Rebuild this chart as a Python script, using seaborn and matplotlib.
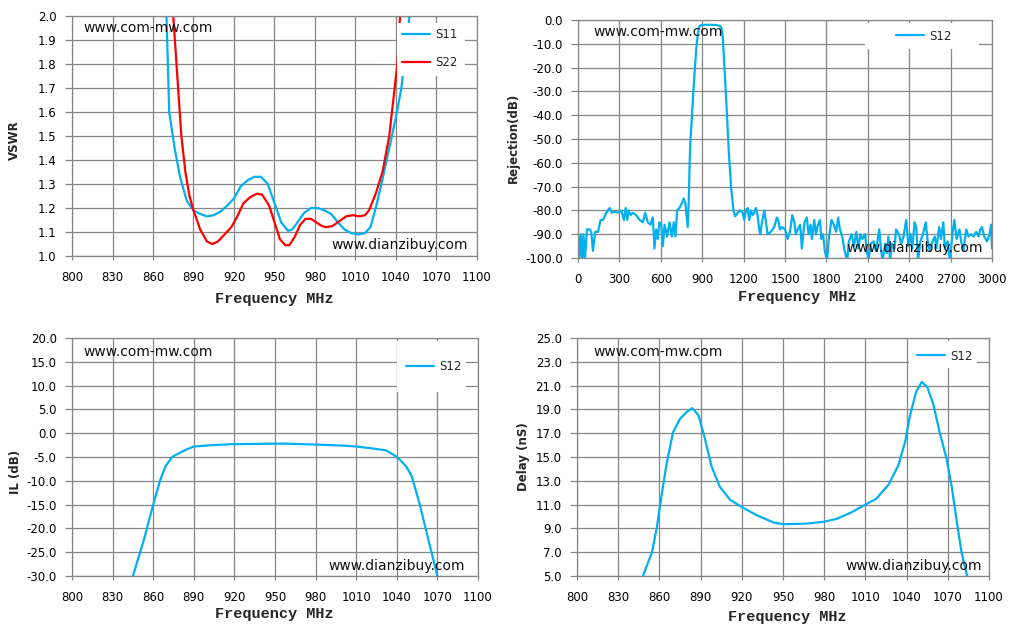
import numpy as np
import pandas as pd
import seaborn as sns
import matplotlib.pyplot as plt
from matplotlib.patches import Rectangle
from matplotlib.ticker import FormatStrFormatter

# VSWR data (MHz, VSWR)
s11_freq = [868, 870, 872, 876, 880, 885, 890, 895, 900, 905, 910, 915, 920, 925, 930,
            935, 940, 945, 950, 955, 960, 963, 967, 972, 977, 982, 987, 992, 997, 1002,
            1007, 1012, 1017, 1021, 1025, 1030, 1035, 1040, 1044, 1047, 1050]
s11_vswr = [2.3, 2.0, 1.6, 1.45, 1.33, 1.23, 1.19, 1.175, 1.165, 1.17, 1.185, 1.21, 1.24, 1.29, 1.315,
            1.33, 1.33, 1.30, 1.22, 1.14, 1.105, 1.11, 1.14, 1.18, 1.20, 1.20, 1.19, 1.175, 1.14, 1.11,
            1.095, 1.09, 1.095, 1.12, 1.20, 1.32, 1.45, 1.58, 1.70, 1.85, 2.0]
s22_freq = [874, 875, 878, 881, 884, 887, 890, 895, 900, 904, 908, 913, 918, 922, 927, 932,
            937, 941, 946, 950, 954, 958, 961, 965, 969, 973, 977, 981, 985, 988, 993, 998,
            1003, 1008, 1013, 1017, 1020, 1025, 1030, 1035, 1039, 1041, 1043]
s22_vswr = [2.1, 2.0, 1.75, 1.5, 1.35, 1.25, 1.19, 1.11, 1.06, 1.05, 1.06, 1.09, 1.12, 1.16, 1.22, 1.245,
            1.26, 1.255, 1.21, 1.14, 1.07, 1.045, 1.045, 1.08, 1.13, 1.155, 1.155, 1.14, 1.125, 1.12, 1.125, 1.145,
            1.165, 1.17, 1.165, 1.17, 1.19, 1.26, 1.35, 1.5, 1.7, 1.8, 2.0]

# Rejection data (MHz, dB)
rej_freq = [0, 10, 20, 30, 40, 50, 65, 84, 96, 108, 125, 145, 164, 181, 205, 229, 246, 265, 289,
            313, 333, 345, 357, 366, 381, 398, 422, 446, 470, 487, 506, 525, 542, 554, 566, 578,
            590, 603, 615, 627, 646, 663, 680, 694, 706, 718, 735, 752, 766, 778, 795,
            803, 809, 815, 821, 833, 845, 857, 869, 878, 886, 900, 950, 1000, 1030, 1040, 1049,
            1061, 1078, 1092, 1109, 1126, 1138,
            1157, 1176, 1193, 1205, 1217, 1229, 1241, 1253, 1265, 1277, 1289, 1301, 1313, 1321,
            1333, 1350, 1362, 1374, 1398, 1422, 1441,
            1451, 1463, 1480, 1500, 1519, 1536, 1553, 1568, 1578, 1593, 1610, 1622, 1641, 1658,
            1671, 1685, 1695, 1712, 1724, 1739, 1754, 1763, 1776, 1788, 1805, 1817, 1837, 1854,
            1871, 1885, 1898, 1915, 1932, 1951, 1963, 1983, 2000, 2017, 2032, 2046, 2061, 2081,
            2090, 2105, 2122, 2142, 2159, 2183, 2195, 2207, 2227, 2237, 2249, 2261, 2276, 2293,
            2305, 2325, 2342, 2359, 2378, 2395, 2410, 2422, 2439, 2451, 2464, 2481, 2500, 2520,
            2532, 2549, 2569, 2586, 2598, 2617, 2630, 2647, 2659, 2678, 2695, 2715, 2727, 2744,
            2764, 2776, 2793, 2813, 2830, 2849, 2866, 2886, 2903, 2915, 2927, 2944, 2964, 2983,
            2993, 3000]
rej_db = [-90, -100, -90, -101, -90, -101, -88, -88, -89, -97, -89, -89, -84, -84, -81, -79, -81, -80.5, -81,
          -80, -84, -79, -84, -80, -82, -81, -82, -84, -85, -81, -85, -86, -83, -96, -88, -92,
          -85, -86, -95, -86, -91, -85, -91, -85, -91, -80, -79, -77, -75, -77, -87,
          -75, -60, -50, -45, -33, -22, -12, -5.6, -3, -2.3, -2.1, -2.0, -2.1, -2.5, -3.5, -7,
          -19.6, -38, -54.5, -70, -79.7, -82.5,
          -81, -80, -81, -84, -80, -79, -84, -80, -82, -81, -79, -82, -88, -90,
          -85, -80, -85, -90, -89, -87, -83,
          -84, -88, -87, -88, -92, -89, -82, -85, -90, -88, -86, -96, -85, -83,
          -90, -86, -92, -84, -90, -86, -84, -92, -90, -97, -101, -92, -84, -86,
          -89, -83, -88, -91, -97, -101, -93, -90, -95, -89, -96, -90, -92, -90,
          -96, -101, -94, -93, -97, -88, -96, -101, -94, -98, -91, -101, -94, -96,
          -88, -90, -94, -91, -84, -95, -90, -96, -85, -87, -101, -93, -90, -85,
          -92, -97, -93, -91, -96, -87, -92, -85, -96, -93, -101, -89, -84, -92,
          -88, -93, -97, -88, -91, -90, -91, -89, -91, -88, -87, -91, -93, -90,
          -86, -96]

# Insertion loss data (MHz, dB)
il_freq = [845, 853, 860, 865, 869, 874, 879, 884, 890, 904, 919, 949, 959, 981, 1000,
           1010, 1022, 1032, 1038, 1042, 1047, 1051, 1057, 1063, 1070]
il_db = [-30, -22.5, -15, -10, -7, -5, -4.2, -3.5, -2.8, -2.5, -2.3, -2.2, -2.2, -2.4, -2.6,
         -2.8, -3.2, -3.6, -4.6, -5.5, -7, -9, -15, -22, -30]

# Group delay data (MHz, ns)
dl_freq = [848, 854.6, 858, 862, 865.5, 870, 875, 880, 884, 888.5, 893, 898, 904, 911.5, 920,
           931, 943, 950, 967, 979.5, 989, 999, 1010, 1018, 1027, 1034, 1039, 1042.5, 1047,
           1051, 1055, 1059.5, 1064, 1069, 1073, 1076.5, 1080, 1084]
dl_ns = [5.0, 7.0, 9.0, 12.1, 14.6, 17.1, 18.2, 18.8, 19.1, 18.5, 16.6, 14.2, 12.5, 11.4, 10.8,
         10.1, 9.5, 9.35, 9.4, 9.55, 9.8, 10.3, 11.0, 11.5, 12.7, 14.3, 16.3, 18.5, 20.5,
         21.3, 20.9, 19.4, 17.1, 14.9, 12.4, 9.6, 7.0, 5.0]

CYAN = '#00b0f0'
RED = '#ff0000'
GRID = '#868686'
W, H = 1014, 630

sns.set_style("whitegrid", {"grid.color": GRID, "axes.edgecolor": GRID,
                            "xtick.bottom": True, "ytick.left": True})
plt.rcParams['font.family'] = ['DejaVu Sans']
plt.rcParams['xtick.color'] = GRID
plt.rcParams['ytick.color'] = GRID
plt.rcParams['xtick.labelcolor'] = '#000000'
plt.rcParams['ytick.labelcolor'] = '#000000'

fig = plt.figure(figsize=(W / 100, H / 100), dpi=100)


def add_axes(left, top, right, bottom):
    return fig.add_axes([left / W, 1 - bottom / H, (right - left) / W, (bottom - top) / H])


def style(ax, xlim, xticks, ylim, yticks, ylabel, ylab_xy, xlab_xy):
    ax.set_xlim(*xlim)
    ax.set_ylim(*ylim)
    ax.set_xticks(xticks)
    ax.set_yticks(yticks)
    ax.yaxis.set_major_formatter(FormatStrFormatter('%.1f'))
    ax.grid(True, color=GRID, linewidth=0.9)
    for sp in ax.spines.values():
        sp.set_color(GRID)
        sp.set_linewidth(0.9)
        sp.set_zorder(6)
    ax.tick_params(axis='x', length=3, width=0.9, pad=7.5, labelsize=8.5)
    ax.tick_params(axis='y', length=5, width=0.9, pad=6, labelsize=8.5)
    ax.set_ylabel(ylabel, fontsize=8.5, fontweight='bold')
    ax.yaxis.label.set_va('center')
    ax.yaxis.set_label_coords(*ylab_xy)
    ax.set_xlabel('Frequency MHz', fontsize=11, fontweight='bold', family='Liberation Mono')
    ax.xaxis.label.set_va('center')
    ax.xaxis.set_label_coords(*xlab_xy)


def legend(ax, box, hx, cy, spacing=1.3):
    # white legend area, like the spreadsheet chart
    x0, y0, x1, y1 = box
    ax.add_patch(Rectangle((x0 / W, 1 - y1 / H), (x1 - x0) / W, (y1 - y0) / H,
                           transform=fig.transFigure, facecolor='white', edgecolor='none',
                           zorder=4, clip_on=False))
    leg = ax.legend(loc='center left', bbox_to_anchor=(hx / W, 1 - cy / H),
                    bbox_transform=fig.transFigure, borderaxespad=0, borderpad=0,
                    frameon=False, fontsize=8.5, handlelength=2.4,
                    handletextpad=0.4, labelspacing=spacing)
    leg.set_zorder(5)


def watermark(x, y, text, ha='left'):
    fig.text(x / W, 1 - y / H, text, fontsize=10, ha=ha, va='center', color='#111111', zorder=10)


lw = 1.6

# Panel 1: VSWR
ax1 = add_axes(72, 16, 477, 256)
sns.lineplot(x=s11_freq, y=s11_vswr, ax=ax1, color=CYAN, lw=lw, label='S11', estimator=None)
sns.lineplot(x=s22_freq, y=s22_vswr, ax=ax1, color=RED, lw=lw, label='S22', estimator=None)
style(ax1, (800, 1100), range(800, 1101, 30), (1.0, 2.0), np.arange(1.0, 2.01, 0.1), 'VSWR',
      (-0.141, 0.483), (0.499, -0.179))
legend(ax1, (397, 23, 465, 76), 402, 48.5)

# Panel 2: Rejection
ax2 = add_axes(578, 20, 992, 258)
sns.lineplot(x=rej_freq, y=rej_db, ax=ax2, color=CYAN, lw=lw, label='S12', estimator=None)
style(ax2, (0, 3000), range(0, 3001, 300), (-100, 0), range(-100, 1, 10), 'Rejection(dB)',
      (-0.155, 0.504), (0.529, -0.164))
legend(ax2, (865, 23, 979, 49), 896, 36)

# Panel 3: IL
ax3 = add_axes(72, 338, 478, 576)
sns.lineplot(x=il_freq, y=il_db, ax=ax3, color=CYAN, lw=lw, label='S12', estimator=None)
style(ax3, (800, 1100), range(800, 1101, 30), (-30, 20), range(-30, 21, 5), 'IL (dB)',
      (-0.140, 0.437), (0.498, -0.16))
legend(ax3, (397, 341, 466, 392), 406, 367)

# Panel 4: Delay
ax4 = add_axes(577, 338, 989, 576)
sns.lineplot(x=dl_freq, y=dl_ns, ax=ax4, color=CYAN, lw=lw, label='S12', estimator=None)
style(ax4, (800, 1100), range(800, 1101, 30), (5, 25), range(5, 26, 2), 'Delay (nS)',
      (-0.129, 0.5), (0.51, -0.172))
legend(ax4, (909, 341, 977, 368), 917, 356)

# watermarks
watermark(83, 28, 'www.com-mw.com')
watermark(468, 245, 'www.dianzibuy.com', ha='right')
watermark(593, 32, 'www.com-mw.com')
watermark(983, 248, 'www.dianzibuy.com', ha='right')
watermark(83, 352, 'www.com-mw.com')
watermark(465, 566, 'www.dianzibuy.com', ha='right')
watermark(593, 352, 'www.com-mw.com')
watermark(982, 566, 'www.dianzibuy.com', ha='right')

fig.savefig('out.png', dpi=100)
